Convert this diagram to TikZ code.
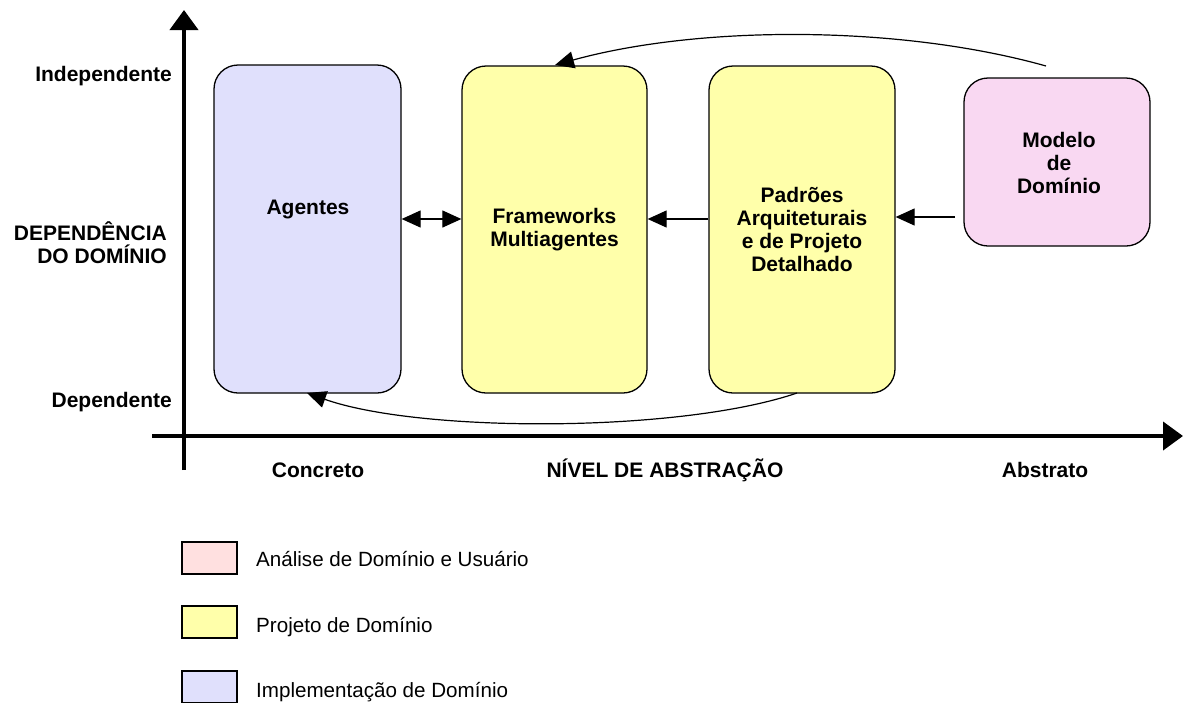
\documentclass[tikz,border=0pt]{standalone}
\usepackage{fontspec}
\setmainfont{Liberation Sans}
\usetikzlibrary{arrows.meta}
\definecolor{impl}{HTML}{E0E0FC}
\definecolor{proj}{HTML}{FFFFAA}
\definecolor{anal}{HTML}{F9D8F2}
\definecolor{legpink}{HTML}{FFE0E0}
\tikzset{
  x=1pt, y=-1pt,
  stagebox/.style={draw=black, line width=1.3pt, rounded corners=24pt, align=center,
    font=\fontsize{21}{23}\selectfont\bfseries, inner sep=0pt},
  conn/.style={line width=1.2pt, -{Triangle[length=19pt,width=17pt]}},
  axis/.style={line width=4pt, -{Triangle[length=20pt,width=28pt]}},
  axlabel/.style={font=\fontsize{21}{23}\selectfont\bfseries, inner sep=0pt},
  legbox/.style={draw=black, line width=1.2pt, minimum width=55pt, minimum height=32pt, inner sep=0pt},
  legtext/.style={font=\fontsize{20.6}{23}\selectfont, anchor=west, inner sep=0pt},
}
\begin{document}
\begin{tikzpicture}
\useasboundingbox (0,0) rectangle (1183,702);
% axes
\coordinate (vb) at (184,470);
\coordinate (vt) at (184,10);
\coordinate (hl) at (152,436);
\coordinate (hr) at (1183,436);
\draw[axis] (vb) -- (vt);
\draw[axis] (hl) -- (hr);
% boxes
\node[stagebox, fill=impl, minimum width=187pt, minimum height=328pt] (ag) at (307.5,229) {};
\node[font=\fontsize{21}{23}\selectfont\bfseries, inner sep=0pt] (agt) at (308,209) {Agentes};
\node[stagebox, fill=proj, minimum width=185pt, minimum height=327pt] (fw) at (554.5,229.5) {Frameworks\\Multiagentes};
\node[stagebox, fill=proj, minimum width=186pt, minimum height=327pt] (pd) at (802,229.5) {Padrões\\Arquiteturais\\e de Projeto\\Detalhado};
\node[stagebox, fill=anal, minimum width=186pt, minimum height=168pt] (md) at (1057,162) {};
\node[font=\fontsize{21}{23}\selectfont\bfseries, align=center, inner sep=0pt] (mdt) at (1059,163) {Modelo\\de\\Domínio};
% connectors
\draw[line width=1.2pt, {Triangle[length=19pt,width=17pt]}-{Triangle[length=19pt,width=17pt]}] (ag.east |- 0,219) -- (fw.west |- 0,219);
\draw[conn] (pd.west |- 0,219) -- (fw.east |- 0,219);
\coordinate (mdstart) at (955,217);
\draw[conn] (mdstart) -- (pd.east |- 0,217);
\coordinate (topstart) at (1046,66);
\coordinate (topend) at (555,65);
\draw[conn] (topstart) .. controls (900,25) and (700,25) .. (topend);
\coordinate (botstart) at (797,393);
\coordinate (botend) at (307,393);
\draw[conn] (botstart) .. controls (680,433) and (420,433) .. (botend);
% axis labels
\node[axlabel, anchor=east] (ind) at (172,76) {Independente};
\node[axlabel, anchor=east] (dep) at (172,402) {Dependente};
\node[axlabel, anchor=east, align=right] (dd) at (167,243) {DEPENDÊNCIA\\DO DOMÍNIO};
\node[axlabel] (conc) at (318,470) {Concreto};
\node[axlabel] (niv) at (665,470) {NÍVEL DE ABSTRAÇÃO};
\node[axlabel] (abs) at (1045,470) {Abstrato};
% legend
\node[legbox, fill=legpink] (l1) at (209.5,558) {};
\node[legtext] (t1) at (256,559) {Análise de Domínio e Usuário};
\node[legbox, fill=proj] (l2) at (209.5,622) {};
\node[legtext] (t2) at (256,627) {Projeto de Domínio};
\node[legbox, fill=impl] (l3) at (209.5,687) {};
\node[legtext] (t3) at (256,692) {Implementação de Domínio};
\end{tikzpicture}
\end{document}
